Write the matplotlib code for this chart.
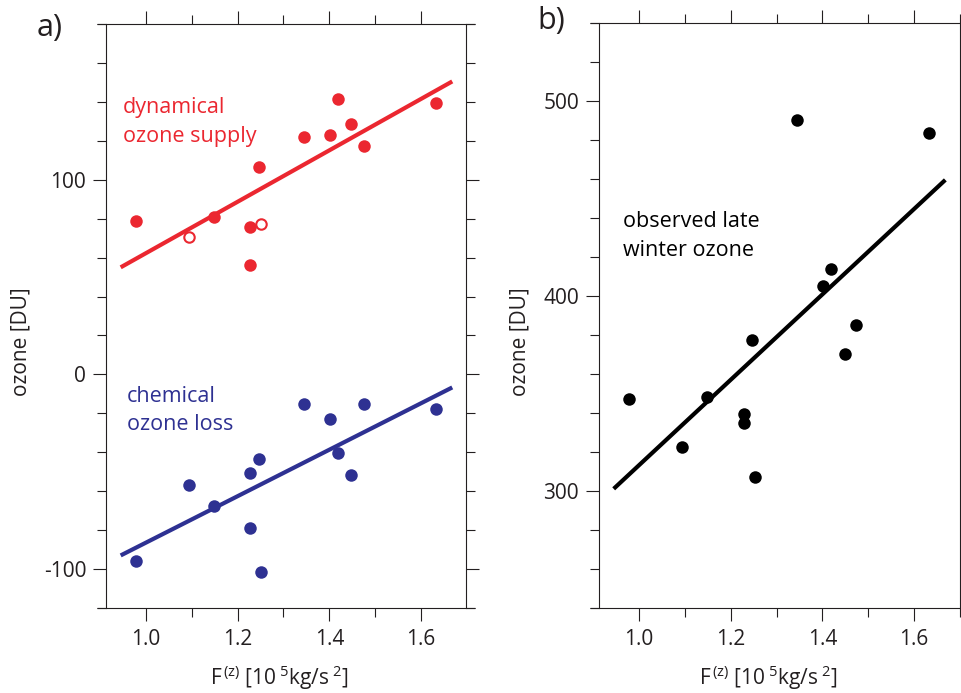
import matplotlib
matplotlib.use("Agg")
import matplotlib.pyplot as plt
from matplotlib.ticker import MultipleLocator

# ---------------- data ----------------
fz = [0.978, 1.094, 1.148, 1.228, 1.228, 1.246, 1.252, 1.344, 1.401, 1.418, 1.448, 1.475, 1.632]
dyn_supply = [79.0, 70.7, 81.0, 75.5, 56.4, 106.5, 77.2, 122.1, 122.8, 141.4, 128.7, 117.3, 139.2]
dyn_open = [False, True, False, False, False, False, True, False, False, False, False, False, False]

fz_chem = [0.978, 1.094, 1.148, 1.228, 1.228, 1.246, 1.252, 1.344, 1.401, 1.418, 1.448, 1.475, 1.632]
chem_loss = [-95.6, -56.8, -67.4, -50.4, -79.0, -43.4, -101.7, -15.2, -23.1, -40.3, -51.6, -15.2, -17.8]

fz_obs = [0.979, 1.094, 1.148, 1.229, 1.229, 1.246, 1.252, 1.345, 1.401, 1.418, 1.449, 1.474, 1.633]
obs_ozone = [347.2, 322.7, 348.2, 339.3, 334.7, 377.4, 307.2, 490.1, 405.1, 413.8, 370.4, 384.8, 483.6]

fit_x = [0.945, 1.668]
fit_dyn = [55.0, 150.5]
fit_chem = [-93.0, -6.7]
fit_obs = [301.0, 459.5]

xticks = [1.0, 1.2, 1.4, 1.6]
xticklabels = ["1.0", "1.2", "1.4", "1.6"]
yticks_a = [-100, 0, 100]
yticks_b = [300, 400, 500]

# ---------------- style ----------------
FONT = "Open Sans"
plt.rcParams["font.family"] = [FONT, "DejaVu Sans"]
plt.rcParams["axes.unicode_minus"] = False
plt.rcParams["mathtext.fontset"] = "custom"
plt.rcParams["mathtext.rm"] = FONT
plt.rcParams["mathtext.it"] = FONT
plt.rcParams["mathtext.bf"] = FONT

RED = "#EB2730"
BLUE = "#2E3192"
INK = "#231F20"

W, H = 961, 693
fig = plt.figure(figsize=(W / 100, H / 100), dpi=100)


def px_rect(l, t, r, b):
    return [l / W, 1 - b / H, (r - l) / W, (b - t) / H]


ax1 = fig.add_axes(px_rect(106, 24, 466, 608))
ax2 = fig.add_axes(px_rect(599, 23, 960, 607.7))


def style_axes(ax, xlim, ylim, yticks):
    ax.set_xlim(*xlim)
    ax.set_ylim(*ylim)
    ax.set_xticks(xticks)
    ax.set_xticklabels(xticklabels)
    ax.set_yticks(yticks)
    ax.set_yticklabels([str(v) for v in yticks])
    ax.xaxis.set_minor_locator(MultipleLocator(0.1))
    ax.yaxis.set_minor_locator(MultipleLocator(20))
    ax.tick_params(which="both", direction="out", top=True, right=True,
                   labeltop=False, labelright=False, width=0.8, color=INK)
    ax.tick_params(which="major", length=9.3, labelsize=15, labelcolor=INK)
    ax.tick_params(axis="y", which="major", pad=5)
    ax.tick_params(axis="x", which="major", pad=6)
    ax.tick_params(which="minor", length=6.2)
    for s in ax.spines.values():
        s.set_linewidth(0.8)
        s.set_color(INK)
    ax.spines["top"].set_visible(False)
    ax.spines["bottom"].set_visible(False)
    # horizontal frame lines extend beyond the vertical ones (tick length)
    bbox = ax.get_position()
    ext = (9 / W) / bbox.width
    for yy in (0, 1):
        ax.plot([-ext, 1 + ext], [yy, yy], transform=ax.transAxes,
                color=INK, lw=0.8, clip_on=False, solid_capstyle="butt")


style_axes(ax1, (0.913, 1.698), (-120, 180), yticks_a)
style_axes(ax2, (0.913, 1.70), (240, 540), yticks_b)

# ---------------- panel a ----------------
ax1.plot(fit_x, fit_dyn, color=RED, lw=3, solid_capstyle="butt", zorder=2)
ax1.plot(fit_x, fit_chem, color=BLUE, lw=3, solid_capstyle="butt", zorder=2)
for x, y, o in zip(fz, dyn_supply, dyn_open):
    if o:
        ax1.plot(x, y, "o", ms=7.5, mfc="white", mec=RED, mew=1.5, zorder=3)
    else:
        ax1.plot(x, y, "o", ms=9, mfc=RED, mec=RED, mew=0, zorder=3)
ax1.plot(fz_chem, chem_loss, "o", ms=9, color=BLUE, mew=0, ls="none", zorder=3)

tr1 = ax1.get_yaxis_transform()
tr2 = ax2.get_yaxis_transform()
ax1.text(0.046, 134.1, "dynamical", color=RED, fontsize=15.5, va="baseline", ha="left", transform=tr1)
ax1.text(0.046, 119.5, "ozone supply", color=RED, fontsize=15.5, va="baseline", ha="left", transform=tr1)
ax1.text(0.058, -14.4, "chemical", color=BLUE, fontsize=15.5, va="baseline", ha="left", transform=tr1)
ax1.text(0.058, -28.6, "ozone loss", color=BLUE, fontsize=15.5, va="baseline", ha="left", transform=tr1)

# ---------------- panel b ----------------
ax2.plot(fit_x, fit_obs, color="black", lw=3, solid_capstyle="butt", zorder=2)
ax2.plot(fz_obs, obs_ozone, "o", ms=9, color="black", mew=0, ls="none", zorder=3)
ax2.text(0.066, 435.2, "observed late", color="black", fontsize=15.5, va="baseline", ha="left", transform=tr2)
ax2.text(0.066, 420.7, "winter ozone", color="black", fontsize=15.5, va="baseline", ha="left", transform=tr2)

# ---------------- labels ----------------
xlab = r"F$^{\,\rm (z)}$ [10$^{\;\rm 5}$kg/s$^{\;\rm 2}$]"
fig.text(210 / W, 1 - 685 / H, xlab, ha="left", va="baseline", fontsize=15, color=INK)
fig.text(699 / W, 1 - 685 / H, xlab, ha="left", va="baseline", fontsize=15, color=INK)
fig.text(21 / W, 1 - 342 / H, "ozone [DU]", rotation=90, ha="center", va="center",
         fontsize=15, color=INK)
fig.text(520 / W, 1 - 342 / H, "ozone [DU]", rotation=90, ha="center", va="center",
         fontsize=15, color=INK)
fig.text(37 / W, 1 - 36 / H, "a)", ha="left", va="baseline", fontsize=22, color=INK)
fig.text(537 / W, 1 - 29.5 / H, "b)", ha="left", va="baseline", fontsize=22, color=INK)

fig.savefig("out.png", dpi=100)
